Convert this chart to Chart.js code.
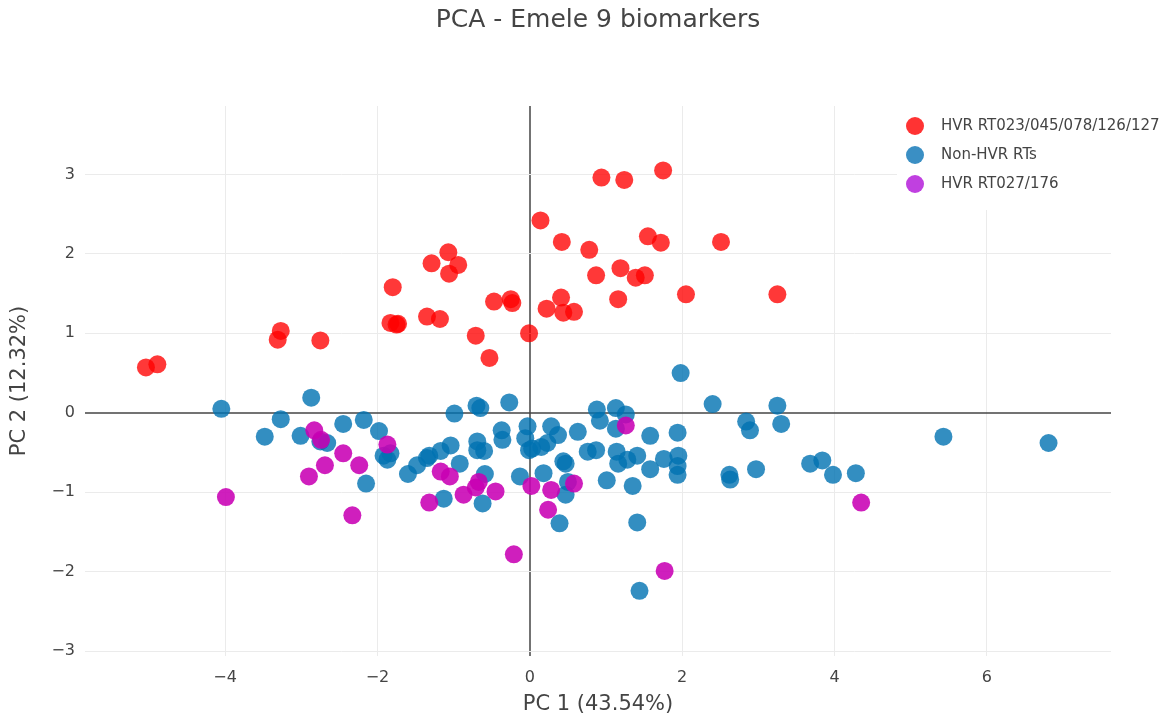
<!DOCTYPE html>
<html>
<head>
<meta charset="utf-8">
<title>PCA - Emele 9 biomarkers</title>
<script src="https://cdn.jsdelivr.net/npm/chart.js@4.4.1/dist/chart.umd.min.js"></script>
<style>
  html, body { margin: 0; padding: 0; background: #fff; }
  #wrap { width: 1173px; height: 719px; }
</style>
</head>
<body>
<div id="wrap"><canvas id="pca" width="1173" height="719"></canvas></div>
<script>
// series names, as in the legend
const seriesNames = ["HVR RT023/045/078/126/127", "Non-HVR RTs", "HVR RT027/176"];
const chartTitle = "PCA - Emele 9 biomarkers";

// [PC1, PC2] per strain
const hvrMainPoints = [
  [-5.04, 0.57], [-4.89, 0.61], [-3.27, 1.03], [-3.31, 0.92], [-2.75, 0.91],
  [-1.80, 1.58], [-1.83, 1.13], [-1.75, 1.11], [-1.73, 1.12], [-1.35, 1.21],
  [-1.18, 1.18], [-1.29, 1.88], [-1.07, 2.02], [-0.94, 1.86], [-1.06, 1.75],
  [-0.71, 0.97], [-0.53, 0.69], [-0.47, 1.40], [-0.25, 1.43], [-0.23, 1.38],
  [-0.01, 1.00], [0.14, 2.42], [0.94, 2.96], [1.24, 2.93], [1.75, 3.05],
  [0.42, 2.15], [0.78, 2.05], [1.55, 2.22], [1.72, 2.14], [2.51, 2.15],
  [0.87, 1.73], [1.19, 1.82], [1.39, 1.70], [1.51, 1.73], [0.41, 1.45],
  [0.22, 1.31], [0.44, 1.26], [0.58, 1.27], [1.16, 1.43], [2.05, 1.49],
  [3.25, 1.49]
];

const nonHvrPoints = [
  [-4.05, 0.05], [-2.87, 0.19], [-3.27, -0.08], [-3.48, -0.30], [-3.01, -0.29],
  [-2.66, -0.38], [-2.75, -0.36], [-2.45, -0.14], [-2.18, -0.09], [-2.15, -0.89],
  [-1.98, -0.23], [-1.92, -0.54], [-1.83, -0.51], [-1.87, -0.59], [-1.60, -0.77],
  [-1.48, -0.66], [-1.32, -0.54], [-1.35, -0.57], [-1.17, -0.48], [-1.04, -0.41],
  [-0.92, -0.64], [-1.13, -1.08], [-0.99, -0.01], [-0.70, 0.09], [-0.65, 0.06],
  [-0.27, 0.13], [-0.69, -0.36], [-0.60, -0.48], [-0.69, -0.47], [-0.59, -0.77],
  [-0.62, -1.14], [-0.37, -0.22], [-0.36, -0.34], [-0.13, -0.80], [-0.03, -0.17],
  [-0.06, -0.32], [-0.01, -0.47], [0.03, -0.45], [0.15, -0.43], [0.23, -0.38],
  [0.28, -0.17], [0.37, -0.28], [0.63, -0.24], [0.18, -0.76], [0.44, -0.61],
  [0.47, -0.64], [0.50, -0.87], [0.47, -1.03], [0.39, -1.39], [0.88, 0.04],
  [0.92, -0.10], [1.13, 0.06], [1.26, -0.02], [1.13, -0.20], [1.58, -0.29],
  [1.94, -0.25], [0.76, -0.49], [0.87, -0.47], [1.14, -0.49], [1.16, -0.64],
  [1.28, -0.59], [1.41, -0.54], [1.58, -0.71], [1.76, -0.58], [1.95, -0.54],
  [1.94, -0.67], [1.94, -0.78], [1.01, -0.85], [1.35, -0.92], [1.41, -1.38],
  [1.44, -2.24], [2.40, 0.11], [1.98, 0.50], [2.84, -0.11], [2.89, -0.22],
  [3.25, 0.09], [3.30, -0.14], [2.62, -0.78], [2.63, -0.84], [2.97, -0.71],
  [3.68, -0.64], [3.84, -0.60], [3.98, -0.78], [4.28, -0.76], [5.43, -0.30],
  [6.81, -0.38]
];

const hvr027Points = [
  [-2.83, -0.22], [-2.74, -0.34], [-2.45, -0.51], [-2.69, -0.66], [-2.90, -0.80],
  [-2.24, -0.66], [-1.87, -0.40], [-3.99, -1.06], [-2.33, -1.29], [-1.17, -0.74],
  [-1.05, -0.80], [-1.32, -1.13], [-0.87, -1.03], [-0.67, -0.87], [-0.71, -0.94],
  [-0.45, -0.99], [-0.21, -1.78], [0.02, -0.92], [0.28, -0.97], [0.24, -1.22],
  [0.58, -0.89], [1.26, -0.16], [4.35, -1.13], [1.77, -1.99]
];

const xTicks = [-4, -2, 0, 2, 4, 6];
const yTicks = [-3, -2, -1, 0, 1, 2, 3];

const markerColors = ["rgba(255, 0, 0, 0.78)", "rgba(0, 114, 178, 0.8)", "rgba(200, 0, 180, 0.88)"];
const legendColors = ["#ff3333", "#3a8fc4", "#c040e0"];

const textColor = "#444";
const font = "'DejaVu Sans', Verdana, sans-serif";

const toXY = pts => pts.map(([x, y]) => ({ x, y }));
const minus = v => String(v).replace("-", "\u2212");

// title centred over the plot area (plotly style), not over the canvas
const plotTitle = {
    id: "plotTitle",
    afterDraw(chart) {
        const { ctx, chartArea } = chart;
        ctx.save();
        ctx.font = `25px ${font}`;
        ctx.fillStyle = textColor;
        ctx.textAlign = "center";
        ctx.textBaseline = "middle";
        ctx.fillText(chartTitle, (chartArea.left + chartArea.right) / 2, 20);
        ctx.restore();
    }
};

// legend sitting inside the plot, top right, on a white box
const legendBox = {
    id: "legendBox",
    afterDatasetsDraw(chart) {
        const { ctx, chartArea } = chart;
        const left = chartArea.right - 214;
        ctx.save();
        ctx.fillStyle = "#fff";
        ctx.fillRect(left, chartArea.top - 6, chart.width - left, 110);
        ctx.font = `15px ${font}`;
        ctx.textBaseline = "middle";
        seriesNames.forEach((name, i) => {
            const y = chartArea.top + 20 + i * 29;
            ctx.beginPath();
            ctx.arc(left + 18, y, 9, 0, Math.PI * 2);
            ctx.fillStyle = legendColors[i];
            ctx.fill();
            ctx.fillStyle = textColor;
            ctx.fillText(name, left + 44, y);
        });
        ctx.restore();
    }
};

const gridColor = c => (c.tick && c.tick.value === 0) ? "rgba(68, 68, 68, 0.75)" : "#ebebeb";
const gridWidth = c => (c.tick && c.tick.value === 0) ? 2 : 1;

new Chart(document.getElementById("pca"), {
    type: "scatter",
    data: {
        datasets: [hvrMainPoints, nonHvrPoints, hvr027Points].map((pts, i) => ({
            label: seriesNames[i],
            data: toXY(pts),
            backgroundColor: markerColors[i],
            borderWidth: 0,
            pointRadius: 9,
            pointHoverRadius: 9,
            order: 2 - i
        }))
    },
    options: {
        responsive: false,
        devicePixelRatio: 1,
        animation: false,
        layout: { padding: { left: 0, right: 62, top: 106, bottom: 0 } },
        plugins: {
            legend: { display: false },
            tooltip: { enabled: false },
            title: { display: false }
        },
        scales: {
            x: {
                type: "linear",
                min: -5.84,
                max: 7.63,
                afterBuildTicks: s => { s.ticks = xTicks.map(v => ({ value: v })); },
                afterFit: s => { s.height = 63; },
                border: { display: false },
                grid: { color: gridColor, lineWidth: gridWidth, drawTicks: false },
                ticks: { color: textColor, font: { family: font, size: 16 }, padding: 12, callback: minus },
                title: {
                    display: true,
                    text: "PC 1 (43.54%)",
                    color: textColor,
                    font: { family: font, size: 21 },
                    padding: { top: 0, bottom: 2 }
                }
            },
            y: {
                type: "linear",
                min: -3.06,
                max: 3.86,
                afterBuildTicks: s => { s.ticks = yTicks.map(v => ({ value: v })); },
                afterFit: s => { s.width = 85; },
                border: { display: false },
                grid: { color: gridColor, lineWidth: gridWidth, drawTicks: false },
                ticks: { color: textColor, font: { family: font, size: 16 }, padding: 10, callback: minus },
                title: {
                    display: true,
                    text: "PC 2 (12.32%)",
                    color: textColor,
                    font: { family: font, size: 21 },
                    padding: { top: 7, bottom: 0 }
                }
            }
        }
    },
    plugins: [legendBox, plotTitle]
});
</script>
</body>
</html>
